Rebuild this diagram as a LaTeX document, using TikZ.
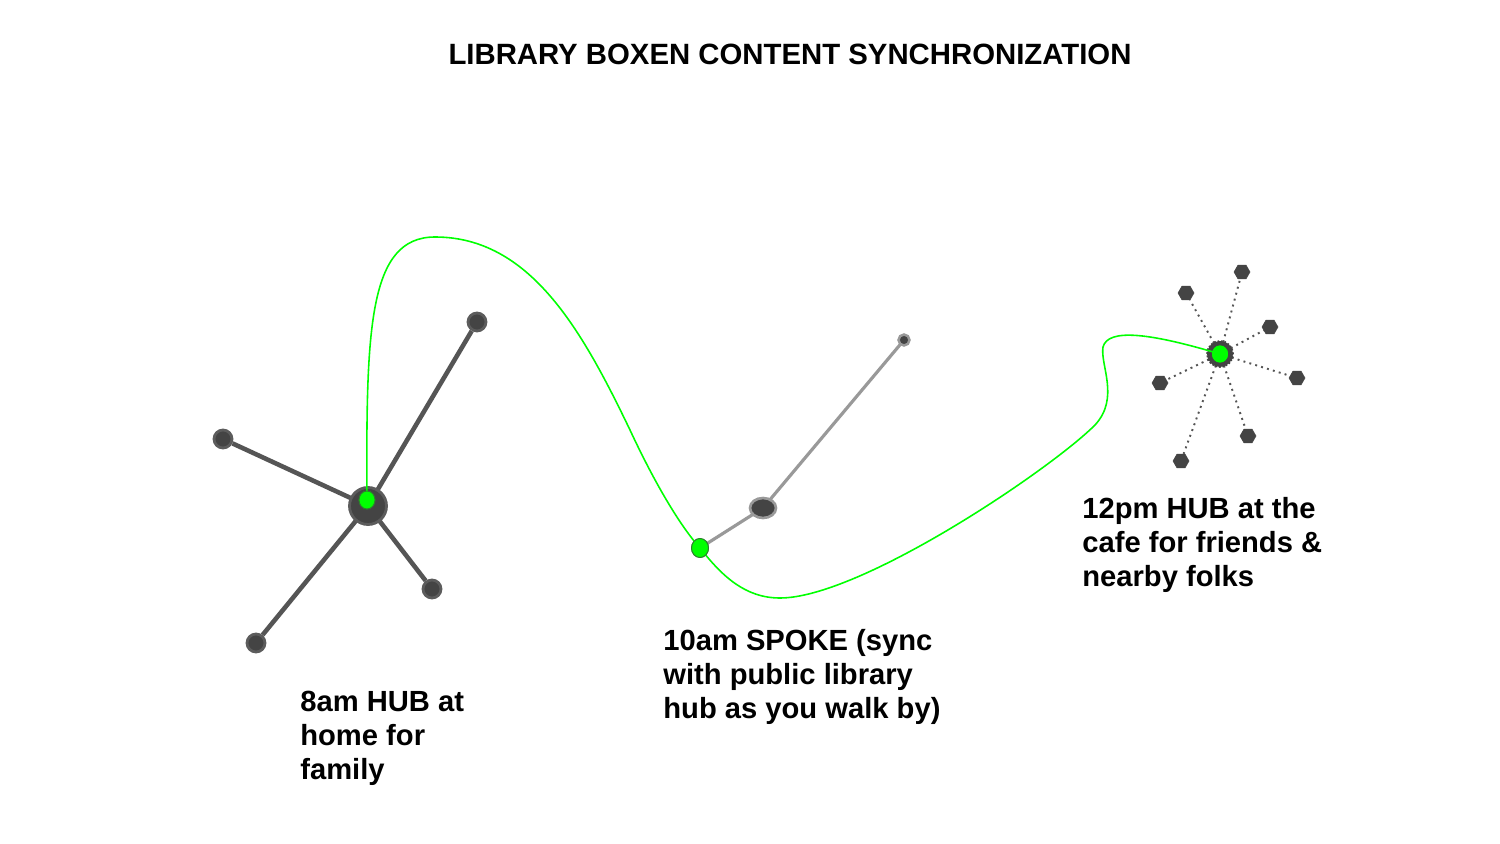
\documentclass[tikz,border=0pt]{standalone}
\usepackage{fontspec}
\setmainfont{Liberation Sans}
\usetikzlibrary{shapes.geometric,backgrounds}
\definecolor{dkg}{HTML}{444444}
\definecolor{lng}{HTML}{555555}
\definecolor{rim}{HTML}{5C5C5C}
\definecolor{ltg}{HTML}{999999}
\definecolor{grn}{HTML}{00FF00}
\definecolor{grnrim}{HTML}{2E7D2E}
\tikzset{
  px/.style={x=0.02cm,y=-0.02cm},
  endpt/.style={circle,inner sep=0pt,minimum size=0.36cm,fill=dkg,draw=rim,line width=1.6pt},
  hubbig/.style={circle,inner sep=0pt,minimum size=0.74cm,fill=dkg,draw=rim,line width=1.6pt},
  greendot/.style={ellipse,inner sep=0pt,minimum width=0.32cm,minimum height=0.36cm,fill=grn,draw=grnrim,line width=0.5pt},
  hexpt/.style={regular polygon,regular polygon sides=6,inner sep=0pt,minimum size=0.32cm,fill=dkg,draw=dkg,line width=0.3pt},
  spokeline/.style={draw=lng,line width=2.6pt},
  lightline/.style={draw=ltg,line width=1.8pt},
  dotline/.style={draw=lng,line width=1.1pt,dash pattern=on 1.1pt off 2.4pt},
  pathline/.style={draw=grn,line width=0.9pt},
  lbl/.style={font=\bfseries\fontsize{16.6}{19.3}\selectfont,align=left,inner sep=0pt,anchor=north west},
}
\begin{document}
\begin{tikzpicture}[px]
\useasboundingbox (0,0) rectangle (1500,844);
% title
\node[font=\bfseries\fontsize{16.7}{19.3}\selectfont,anchor=base] (title) at (790,65) {LIBRARY BOXEN CONTENT SYNCHRONIZATION};
% hub 1
\node[hubbig] (h1) at (368,506) {};
\node[endpt] (a1) at (477,322) {};
\node[endpt] (a2) at (223,439) {};
\node[endpt] (a3) at (256,643) {};
\node[endpt] (a4) at (432,589) {};
\node[greendot] (g1) at (367,500) {};
% spoke
\node[greendot,minimum width=0.34cm,minimum height=0.38cm] (g2) at (700,548) {};
\node[ellipse,inner sep=0pt,minimum width=0.52cm,minimum height=0.4cm,fill=dkg,draw=ltg,line width=1.5pt] (m2) at (763,508) {};
\node[circle,inner sep=0pt,minimum size=0.22cm,fill=dkg,draw=ltg,line width=1.4pt] (s2) at (904,340) {};
% hub 3
\node[circle,inner sep=0pt,minimum size=0.52cm,fill=dkg,draw=dkg,line width=1pt,densely dotted] (h3) at (1220,354) {};
\node[greendot,minimum width=0.32cm,minimum height=0.34cm,draw=none] (g3) at (1220,354) {};
\node[hexpt] (b1) at (1242,272) {};
\node[hexpt] (b2) at (1186,293) {};
\node[hexpt] (b3) at (1270,327) {};
\node[hexpt] (b4) at (1297,378) {};
\node[hexpt] (b5) at (1160,383) {};
\node[hexpt] (b6) at (1248,436) {};
\node[hexpt] (b7) at (1181,461) {};
\begin{scope}[on background layer]
\fill[white] (0,0) rectangle (1500,844);
\foreach \e in {a1,a2,a3,a4} \draw[spokeline] (h1.center) -- (\e);
\draw[lightline] (g2.center) -- (m2.center) -- (s2.center);
\foreach \e in {b1,b2,b3,b4,b5,b6,b7} \draw[dotline] (h3.center) -- (\e);
\end{scope}
% green path
\coordinate (p1) at (435,237);
\coordinate (p2) at (630,430);
\coordinate (p3) at (780,598);
\coordinate (p4) at (1095,425);
\coordinate (p5) at (1103,347);
\draw[pathline] (g1.center) .. controls (366,330) and (368,237) .. (p1)
  .. controls (530,237) and (582,330) .. (p2)
  .. controls (657,488) and (682,528) .. (g2.center)
  .. controls (722,576) and (745,598) .. (p3)
  .. controls (860,598) and (1050,470) .. (p4)
  .. controls (1120,398) and (1100,365) .. (p5)
  .. controls (1108,328) and (1150,333) .. (g3.center);
\node[greendot] at (g1) {};
\node[greendot,minimum width=0.34cm,minimum height=0.38cm] at (g2) {};
\node[greendot,minimum width=0.32cm,minimum height=0.34cm,draw=none] at (g3) {};
% labels
\node[lbl] (l1) at (300,691) {8am HUB at\\home for\\family};
\node[lbl] (l2) at (663,629) {10am SPOKE (sync\\with public library\\hub as you walk by)};
\node[lbl] (l3) at (1082,497) {12pm HUB at the\\cafe for friends \&\\nearby folks};
\end{tikzpicture}
\end{document}
